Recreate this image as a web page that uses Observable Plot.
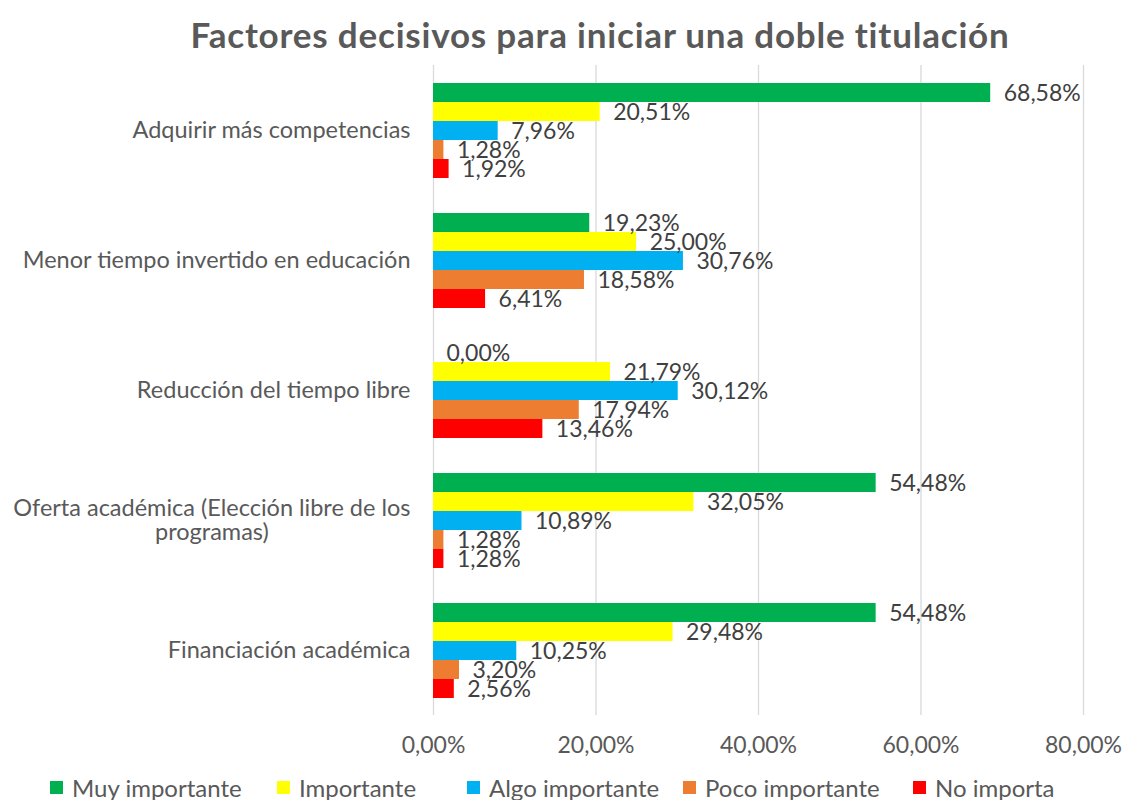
<!DOCTYPE html>
<html><head><meta charset="utf-8">
<script src="https://cdn.jsdelivr.net/npm/d3@7"></script>
<script src="https://cdn.jsdelivr.net/npm/@observablehq/plot@0.6"></script>
<style>
body{margin:0;background:#fff;font-family:Lato,sans-serif;width:1122px;height:800px;position:relative;overflow:hidden;}
#title{position:absolute;left:0;top:0;width:1122px;height:68px;line-height:68px;text-align:center;font-weight:bold;font-size:35px;letter-spacing:0.8px;color:#595959;padding-left:78px;box-sizing:border-box;white-space:nowrap;}
#chart{position:absolute;left:0;top:60px;}
#legend{position:absolute;left:0;top:770px;width:1122px;height:34px;font-size:24px;color:#595959;}
#legend .item{position:absolute;top:0;height:34px;display:flex;align-items:center;white-space:nowrap;}
#legend .sw{width:13px;height:13px;margin-right:9px;display:inline-block;}
</style></head><body>
<div id="title">Factores decisivos para iniciar una doble titulación</div>
<div id="chart"></div>
<div id="legend"></div>
<script>
const categories = [
  "Adquirir más competencias",
  "Menor tiempo invertido en educación",
  "Reducción del tiempo libre",
  "Oferta académica (Elección libre de los programas)",
  "Financiación académica"
];
const series = ["Muy importante", "Importante", "Algo importante", "Poco importante", "No importa"];
const muyImportante = [68.58, 19.23, 0.00, 54.48, 54.48];
const importante = [20.51, 25.00, 21.79, 32.05, 29.48];
const algoImportante = [7.96, 30.76, 30.12, 10.89, 10.25];
const pocoImportante = [1.28, 18.58, 17.94, 1.28, 3.20];
const noImporta = [1.92, 6.41, 13.46, 1.28, 2.56];
const colors = ["#00B050", "#FFFF00", "#00B0F0", "#ED7D31", "#FF0000"];
const xTicks = [0, 20, 40, 60, 80];

// layout only
const legendLeft = [50, 277, 467, 683, 913];

const seriesValues = [muyImportante, importante, algoImportante, pocoImportante, noImporta];
const data = [];
categories.forEach((c, i) => {
  series.forEach((s, j) => data.push({cat: c, serie: s, value: seriesValues[j][i]}));
});
const fmt = v => v.toFixed(2).replace(".", ",") + "%";
const catLabel = c => c === "Oferta académica (Elección libre de los programas)"
  ? "Oferta académica (Elección libre de los\nprogramas)" : c;

const chart = Plot.plot({
  width: 1122, height: 710,
  marginTop: 5, marginBottom: 55, marginLeft: 433, marginRight: 39,
  style: {fontFamily: "Lato, sans-serif", fontSize: "23px", color: "#595959", background: "white"},
  x: {domain: [0, 80], label: null},
  fy: {domain: categories, padding: 0, label: null},
  y: {domain: series, paddingInner: 0, paddingOuter: 0.92, axis: null},
  color: {domain: series, range: colors},
  marks: [
    Plot.gridX(xTicks, {stroke: "#d9d9d9", strokeOpacity: 1, strokeWidth: 1.3}),
    Plot.barX(data, {x: "value", y: "serie", fy: "cat", fill: "serie"}),
    Plot.text(data, {x: "value", y: "serie", fy: "cat", text: d => fmt(d.value), textAnchor: "start", dx: 13, dy: 1, fill: "#404040", fontSize: 23}),
    Plot.axisX({ticks: xTicks, tickSize: 0, tickPadding: 21, tickFormat: fmt, label: null, anchor: "bottom", fill: "#595959", fontSize: 23}),
    Plot.axisFy({anchor: "left", tickSize: 0, tickPadding: 23, label: null, tickFormat: catLabel, fill: "#595959", fontSize: 23.5, lineHeight: 1})
  ]
});
document.getElementById("chart").appendChild(chart);

// center multi-line category labels (as the original does)
chart.querySelectorAll("text").forEach(t => {
  const spans = t.querySelectorAll("tspan");
  if (spans.length > 1) {
    const w = t.getBBox().width;
    t.setAttribute("text-anchor", "middle");
    const tr = t.getAttribute("transform") || "";
    t.setAttribute("transform", tr + ` translate(${-w / 2},0)`);
  }
});

const legend = document.getElementById("legend");
series.forEach((s, j) => {
  const it = document.createElement("div");
  it.className = "item";
  it.style.left = legendLeft[j] + "px";
  const sw = document.createElement("span");
  sw.className = "sw";
  sw.style.background = colors[j];
  it.appendChild(sw);
  it.appendChild(document.createTextNode(s));
  legend.appendChild(it);
});
</script>
</body></html>
